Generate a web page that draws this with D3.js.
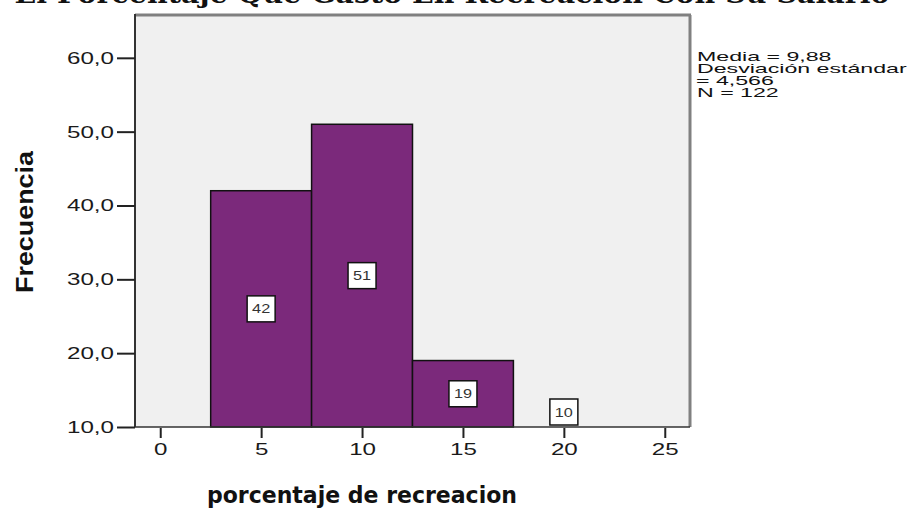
<!DOCTYPE html>
<meta charset="utf-8">
<script src="https://d3js.org/d3.v7.min.js"></script>
<style>
  body { margin: 0; background: #fff; }
</style>
<div id="my_dataviz"></div>
<script>

  // data
  var binCenters = [5, 10, 15, 20];
  var counts = [42, 51, 19, 10];
  var binWidth = 5;
  var xTicks = [0, 5, 10, 15, 20, 25];
  var yTicks = [10, 20, 30, 40, 50, 60];
  var statLines = ["Media = 9,88", "Desviación estándar", "= 4,566", "N = 122"];
  var title = "El Porcentaje Que Gasto En Recreacion Con Su Salario";

  var width = 915, height = 512;
  var plot = {left: 135, top: 15, right: 690, bottom: 427};

  var svg = d3.select("#my_dataviz")
    .append("svg")
      .attr("width", width)
      .attr("height", height);

  // stretch text horizontally like the (widened) original picture
  function stretch(sel, k) {
    sel.each(function() {
      var w = this.getComputedTextLength();
      d3.select(this)
        .attr("textLength", w * k)
        .attr("lengthAdjust", "spacingAndGlyphs");
    });
  }

  var x = d3.scaleLinear()
    .domain([-1.25, 26.25])
    .range([plot.left, plot.right]);

  var y = d3.scaleLinear()
    .domain([10, 65.8])
    .range([plot.bottom, plot.top]);

  // frame background
  svg.append("rect")
    .attr("x", plot.left)
    .attr("y", plot.top)
    .attr("width", plot.right - plot.left)
    .attr("height", plot.bottom - plot.top)
    .style("fill", "#f0f0f0");

  // bars
  svg.selectAll(".bar")
    .data(counts)
    .enter()
    .append("rect")
      .attr("class", "bar")
      .attr("x", function(d, i) { return x(binCenters[i] - binWidth / 2) })
      .attr("y", function(d) { return y(d) })
      .attr("width", function(d, i) { return x(binCenters[i] + binWidth / 2) - x(binCenters[i] - binWidth / 2) })
      .attr("height", function(d) { return y(10) - y(d) })
      .style("fill", "#7b297b")
      .style("stroke", function(d) { return d > 10 ? "#111" : "none" })
      .style("stroke-width", 1.5);

  // frame borders: shadowed top/right, dark left/bottom
  svg.append("line")
    .attr("x1", plot.left).attr("x2", plot.right + 1)
    .attr("y1", plot.top).attr("y2", plot.top)
    .style("stroke", "#808080").style("stroke-width", 3);
  svg.append("line")
    .attr("x1", plot.right).attr("x2", plot.right)
    .attr("y1", plot.top).attr("y2", plot.bottom)
    .style("stroke", "#808080").style("stroke-width", 3);
  svg.append("line")
    .attr("x1", plot.left).attr("x2", plot.left)
    .attr("y1", plot.top - 1).attr("y2", plot.bottom)
    .style("stroke", "#333").style("stroke-width", 2);
  svg.append("line")
    .attr("x1", plot.left).attr("x2", plot.right)
    .attr("y1", plot.bottom).attr("y2", plot.bottom)
    .style("stroke", "#333").style("stroke-width", 1.5);

  // y axis
  var yAxis = svg.append("g")
    .attr("transform", "translate(" + plot.left + ",0)")
    .call(d3.axisLeft(y)
      .tickValues(yTicks)
      .tickSize(18)
      .tickPadding(3)
      .tickFormat(function(d) { return d.toFixed(1).replace(".", ","); }));
  yAxis.select(".domain").remove();
  yAxis.selectAll("line").style("stroke", "#222").style("stroke-width", 2);
  yAxis.selectAll("text")
    .style("font-family", "Liberation Sans, Arial, sans-serif")
    .style("font-size", "17px")
    .style("fill", "#1a1a1a")
    .call(stretch, 1.42);

  // x axis
  var xAxis = svg.append("g")
    .attr("transform", "translate(0," + (plot.bottom + 1) + ")")
    .call(d3.axisBottom(x)
      .tickValues(xTicks)
      .tickSize(10)
      .tickPadding(5));
  xAxis.select(".domain").remove();
  xAxis.selectAll("line").style("stroke", "#222").style("stroke-width", 2);
  xAxis.selectAll("text")
    .style("font-family", "Liberation Sans, Arial, sans-serif")
    .style("font-size", "17px")
    .style("fill", "#1a1a1a")
    .call(stretch, 1.42);

  // count labels in white boxes
  var bw = 28, bh = 26;
  var labels = svg.selectAll(".lab")
    .data(counts)
    .enter()
    .append("g")
      .attr("class", "lab")
      .attr("transform", function(d, i) {
        var cy = Math.min(y((d + 10) / 2), plot.bottom - bh / 2 - 2);
        return "translate(" + x(binCenters[i]) + "," + cy + ")";
      });
  labels.append("rect")
    .attr("x", -bw / 2)
    .attr("y", -bh / 2)
    .attr("width", bw)
    .attr("height", bh)
    .style("fill", "#fff")
    .style("stroke", "#111")
    .style("stroke-width", 1.5);
  labels.append("text")
    .attr("text-anchor", "middle")
    .attr("dy", "0.35em")
    .style("font-family", "Liberation Sans, Arial, sans-serif")
    .style("font-size", "13px")
    .style("fill", "#333")
    .text(function(d) { return d; })
    .call(stretch, 1.25);

  // stats box text
  svg.selectAll(".stat")
    .data(statLines)
    .enter()
    .append("text")
      .attr("class", "stat")
      .attr("x", function(d, i) { return i == 2 ? 696 : 697 })
      .attr("y", function(d, i) { return 61 + i * 12 })
      .style("font-family", "Liberation Sans, Arial, sans-serif")
      .style("font-size", "13px")
      .style("fill", "#111")
      .text(function(d) { return d; })
      .call(stretch, 1.78);

  // axis titles
  svg.append("text")
    .attr("transform", "translate(33,222) rotate(-90)")
    .attr("text-anchor", "middle")
    .style("font-family", "Liberation Sans, Arial, sans-serif")
    .style("font-weight", "bold")
    .style("font-size", "23px")
    .style("fill", "#111")
    .attr("textLength", 142)
    .attr("lengthAdjust", "spacingAndGlyphs")
    .text("Frecuencia");

  svg.append("text")
    .attr("x", 362)
    .attr("y", 503)
    .attr("text-anchor", "middle")
    .style("font-family", "DejaVu Sans, Verdana, sans-serif")
    .style("font-weight", "bold")
    .style("font-size", "23px")
    .style("fill", "#111")
    .attr("textLength", 310)
    .attr("lengthAdjust", "spacingAndGlyphs")
    .text("porcentaje de recreacion");

  // title (cut off at the top in the original)
  svg.append("text")
    .attr("x", 452)
    .attr("y", 3)
    .attr("text-anchor", "middle")
    .style("font-family", "DejaVu Serif, serif")
    .style("font-weight", "bold")
    .style("font-size", "26px")
    .style("fill", "#111")
    .attr("textLength", 875)
    .attr("lengthAdjust", "spacingAndGlyphs")
    .text(title);

</script>
